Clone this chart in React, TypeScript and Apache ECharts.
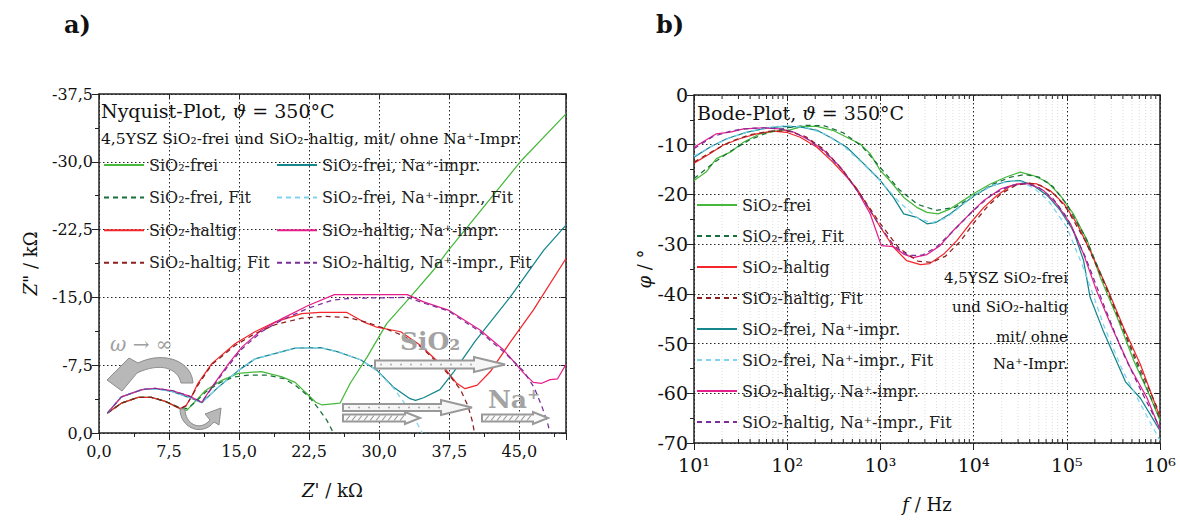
import React, { useEffect, useRef } from "react";
import * as echarts from "echarts";

const FONT = "DejaVu Serif";

const SERIES_NAMES = [
  "SiO₂-frei",
  "SiO₂-frei, Fit",
  "SiO₂-haltig",
  "SiO₂-haltig, Fit",
  "SiO₂-frei, Na⁺-impr.",
  "SiO₂-frei, Na⁺-impr., Fit",
  "SiO₂-haltig, Na⁺-impr.",
  "SiO₂-haltig, Na⁺-impr., Fit",
];
const SERIES_COLORS = ["#46b83a", "#17703a", "#f2262b", "#8c1f1f", "#14868c", "#7fd3ee", "#e61e8c", "#7a2f98"];
const SERIES_DASHED = [false, true, false, true, false, true, false, true];

// Nyquist axes (Z' and -Z'' in kOhm)
const NYQ_X_MAX = 50;
const NYQ_Y_MAX = 37.5;
const NYQ_STEP = 7.5;

// Bode axes
const BODE_F_MIN = 10;
const BODE_F_MAX = 1e6;
const BODE_PHI_MIN = -70;
const BODE_PHI_STEP = 10;
const SUPERSCRIPTS = ["⁰", "¹", "²", "³", "⁴", "⁵", "⁶"];

// ---------- Nyquist data: [Z' kOhm, -Z'' kOhm] ----------
const nyqFrei = [
  [0.9, 2.2], [2.4, 3.3], [4.2, 3.95], [5.6, 3.95], [7.1, 3.5], [8.7, 2.7], [9.4, 2.5], [10.3, 3.5],
  [11.4, 4.7], [13.1, 5.8], [14.9, 6.6], [17.4, 6.8], [19.6, 6.2], [21, 5.6], [22.4, 4.2], [23.2, 3.4],
  [23.9, 3.1], [25.8, 3.3], [26.9, 5.5], [28.7, 8.4], [30.8, 12.1], [33.3, 15.0], [35.8, 18.0],
  [37.4, 20.2], [40, 23.5], [45.1, 30.0], [50, 35.3],
];
const nyqFreiFit = [
  [0.9, 2.2], [2.4, 3.3], [4.2, 3.95], [5.6, 3.95], [7.1, 3.5], [8.7, 2.8], [9.5, 2.7], [10.5, 3.6],
  [11.5, 4.6], [13, 5.6], [14.5, 6.2], [16, 6.4], [18, 6.4], [19.8, 6.0], [21, 5.3], [22.5, 4.0],
  [23.5, 2.7], [24.4, 1.4], [25.1, 0],
];
const nyqHaltig = [
  [0.9, 2.2], [2.4, 3.3], [4.2, 3.95], [5.6, 3.95], [7.1, 3.5], [8.7, 2.7], [9.3, 3.0], [9.9, 4.0],
  [10.6, 5.5], [12.1, 7.7], [14.6, 9.9], [16.7, 11.2], [18.9, 12.3], [21.7, 13.2], [23.7, 13.35],
  [26.5, 13.35], [28.3, 12.3], [29.75, 11.7], [32.3, 11.2], [34.4, 9.7], [36.9, 7.3], [38.3, 5.5],
  [39.2, 4.9], [40.5, 5.3], [41.9, 6.8], [44.0, 10.0], [46.5, 13.6], [50, 19.3],
];
const nyqHaltigFit = [
  [0.9, 2.2], [2.4, 3.3], [4.2, 3.95], [5.6, 3.95], [7.1, 3.5], [8.7, 2.7], [9.3, 3.0], [9.9, 4.0],
  [10.6, 5.3], [12.1, 7.6], [14.6, 9.7], [16.7, 11.0], [18.9, 12.0], [21.7, 12.7], [24, 12.9],
  [26.5, 12.8], [28.5, 12.3], [30.5, 11.6], [32.5, 10.8], [34.5, 9.5], [36, 8.0], [37.5, 6.4],
  [38.7, 4.8], [39.5, 3.0], [40.0, 1.2], [40.2, 0],
];
const nyqFreiNa = [
  [0.9, 2.2], [2.4, 4.0], [4.6, 4.8], [6.0, 4.9], [7.8, 4.6], [9.6, 3.95], [11, 3.35], [12.8, 5.1],
  [14.9, 6.9], [16.7, 8.2], [18.9, 8.8], [21, 9.4], [23.7, 9.45], [25.5, 9.0], [28, 8.1],
  [29.75, 6.95], [31.5, 5.1], [33.3, 3.8], [33.9, 3.6], [34.75, 3.9], [36.5, 4.8], [38, 6.8],
  [40.3, 10.2], [44, 15.0], [47.6, 20.2], [50, 23.0],
];
const nyqFreiNaFit = [
  [0.9, 2.2], [2.4, 4.0], [4.6, 4.8], [6.0, 4.9], [7.8, 4.6], [9.6, 3.95], [11, 3.35], [12.8, 5.1],
  [14.9, 6.9], [16.7, 8.2], [18.9, 8.8], [21, 9.4], [23.7, 9.45], [25.5, 9.0], [28, 8.1],
  [29.75, 6.9], [31.5, 5.0], [32.5, 3.6], [33.3, 2.4], [34, 1.2], [34.6, 0],
];
const nyqHaltigNa = [
  [0.9, 2.2], [2.4, 4.0], [4.6, 4.8], [6.0, 4.95], [7.8, 4.7], [9.6, 4.1], [11, 3.4], [12.1, 5.1],
  [13.9, 7.7], [15.3, 9.5], [17.4, 11.4], [19.6, 12.65], [22.4, 14.1], [25.2, 15.3], [33, 15.3],
  [34.75, 14.5], [37.4, 13.6], [40.8, 11.4], [43.3, 9.2], [45.5, 6.6], [46.5, 5.6], [47.4, 5.5],
  [48.3, 5.9], [49.1, 6.0], [50, 7.6],
];
const nyqHaltigNaFit = [
  [0.9, 2.2], [2.4, 4.0], [4.6, 4.8], [6.0, 4.95], [7.8, 4.7], [9.6, 4.1], [11, 3.4], [12.1, 5.0],
  [13.9, 7.5], [15.3, 9.3], [17.4, 11.2], [19.6, 12.5], [22.4, 13.8], [25, 14.7], [27, 14.9],
  [33, 15.0], [35, 14.3], [37.4, 13.5], [40.8, 11.2], [43.3, 9.0], [45.5, 6.8], [46.6, 5.0],
  [47.4, 3.0], [48.0, 1.2], [48.3, 0],
];

// ---------- Bode data: [log10(f / Hz), phase in degrees] ----------
const bodeFrei = [
  [1.0, -17.2], [1.13, -15.5], [1.24, -12.8], [1.39, -11.5], [1.53, -9.5], [1.71, -7.8], [1.89, -7.25],
  [2.03, -7.0], [2.17, -6.3], [2.32, -6.3], [2.49, -7.1], [2.67, -8.8], [2.78, -9.8], [2.89, -11.8],
  [3.0, -15.2], [3.1, -17.2], [3.25, -20.6], [3.39, -22.6], [3.5, -23.6], [3.62, -23.9], [3.75, -22.9],
  [3.89, -21.2], [4.03, -19.5], [4.18, -17.9], [4.35, -16.5], [4.5, -15.5], [4.64, -16.2], [4.79, -17.5],
  [4.93, -20.2], [5.07, -23.9], [5.22, -29.3], [5.36, -36.7], [5.54, -44.7], [5.72, -53.5], [5.9, -60.9],
  [6.0, -65.5],
];
const bodeFreiFit = [
  [1.0, -16.8], [1.2, -13.8], [1.4, -11.2], [1.6, -9.0], [1.8, -7.5], [2.0, -6.6], [2.2, -6.1], [2.4, -6.2],
  [2.6, -7.6], [2.8, -10.3], [3.0, -14.6], [3.2, -19.0], [3.4, -22.0], [3.6, -23.2], [3.8, -22.6],
  [4.0, -20.4], [4.2, -18.0], [4.4, -16.5], [4.55, -16.0], [4.7, -16.5], [4.85, -18.4], [5.0, -22.0],
  [5.2, -28.6], [5.4, -37.6], [5.6, -47.0], [5.8, -56.4], [6.0, -65.2],
];
const bodeHaltig = [
  [1.0, -13.7], [1.17, -11.8], [1.31, -10.1], [1.49, -8.8], [1.67, -7.8], [1.85, -7.25], [1.99, -7.5],
  [2.14, -8.5], [2.32, -10.5], [2.49, -13.5], [2.64, -16.5], [2.75, -18.9], [2.89, -23.2], [3.0, -26.6],
  [3.14, -30.6], [3.28, -33.3], [3.43, -34.1], [3.53, -33.9], [3.68, -32.0], [3.82, -29.3], [3.96, -25.9],
  [4.11, -22.6], [4.25, -20.2], [4.39, -18.4], [4.53, -17.7], [4.68, -17.9], [4.82, -19.2], [4.97, -21.9],
  [5.11, -25.9], [5.25, -31.3], [5.43, -38.7], [5.61, -46.8], [5.79, -54.2], [6.0, -64.8],
];
const bodeHaltigFit = [
  [1.0, -13.5], [1.2, -11.3], [1.4, -9.3], [1.6, -8.0], [1.8, -7.3], [2.0, -7.2], [2.2, -8.4], [2.4, -11.0],
  [2.6, -15.2], [2.8, -20.4], [3.0, -25.9], [3.2, -30.8], [3.4, -33.4], [3.55, -33.7], [3.7, -32.4],
  [3.85, -29.6], [4.0, -25.8], [4.15, -22.4], [4.3, -19.8], [4.45, -18.2], [4.58, -17.7], [4.72, -18.2],
  [4.87, -20.0], [5.0, -22.9], [5.2, -29.4], [5.4, -37.8], [5.6, -46.8], [5.8, -55.6], [6.0, -64.2],
];
const bodeFreiNa = [
  [1.0, -12.5], [1.17, -10.5], [1.35, -8.8], [1.56, -7.5], [1.78, -6.65], [1.96, -6.3], [2.14, -6.4],
  [2.32, -7.1], [2.49, -8.8], [2.64, -10.5], [2.82, -13.8], [3.0, -17.2], [3.14, -20.6], [3.25, -23.9],
  [3.39, -24.6], [3.5, -25.9], [3.6, -25.6], [3.75, -23.9], [3.89, -21.9], [4.03, -19.9], [4.18, -18.4],
  [4.35, -17.4], [4.5, -17.2], [4.64, -18.2], [4.79, -20.2], [4.93, -23.2], [5.07, -27.3], [5.18, -33.3],
  [5.25, -40.7], [5.39, -47.4], [5.63, -57.7], [5.79, -61.0], [6.0, -67.5],
];
const bodeFreiNaFit = [
  [1.0, -12.3], [1.2, -10.2], [1.4, -8.5], [1.6, -7.3], [1.8, -6.5], [2.0, -6.2], [2.2, -6.5], [2.4, -7.8],
  [2.6, -10.2], [2.8, -13.6], [3.0, -17.3], [3.2, -21.5], [3.4, -24.8], [3.55, -25.7], [3.7, -24.8],
  [3.85, -22.6], [4.0, -20.2], [4.2, -18.2], [4.4, -17.3], [4.5, -17.4], [4.65, -18.8], [4.8, -21.2],
  [5.0, -26.6], [5.2, -35.8], [5.4, -46.5], [5.6, -55.5], [5.8, -62.5], [6.0, -69.5],
];
const bodeHaltigNa = [
  [1.0, -10.5], [1.24, -7.8], [1.39, -7.45], [1.53, -6.8], [1.74, -6.6], [1.92, -6.8], [2.07, -7.45],
  [2.24, -9.1], [2.39, -11.1], [2.57, -14.5], [2.75, -19.2], [2.89, -23.9], [3.01, -30.3], [3.14, -30.5],
  [3.25, -32.0], [3.35, -32.7], [3.5, -32.1], [3.64, -30.3], [3.78, -27.3], [3.96, -23.9], [4.11, -21.2],
  [4.29, -18.9], [4.46, -17.9], [4.61, -17.9], [4.75, -19.2], [4.89, -21.9], [5.04, -25.9], [5.18, -32.0],
  [5.32, -39.4], [5.5, -47.4], [5.68, -54.8], [5.86, -60.9], [6.0, -67.3],
];
const bodeHaltigNaFit = [
  [1.0, -10.8], [1.2, -8.4], [1.4, -7.2], [1.6, -6.7], [1.8, -6.6], [2.0, -7.0], [2.2, -8.6], [2.4, -11.4],
  [2.6, -15.2], [2.8, -20.6], [3.0, -26.5], [3.15, -30.4], [3.3, -32.3], [3.45, -32.2], [3.6, -30.6],
  [3.8, -27.0], [4.0, -23.2], [4.2, -20.0], [4.4, -18.2], [4.55, -17.8], [4.7, -18.6], [4.85, -20.8],
  [5.0, -24.6], [5.2, -32.6], [5.4, -42.4], [5.6, -51.8], [5.8, -59.6], [6.0, -67.0],
];

const NYQ_DATA = [nyqFrei, nyqFreiFit, nyqHaltig, nyqHaltigFit, nyqFreiNa, nyqFreiNaFit, nyqHaltigNa, nyqHaltigNaFit];
const BODE_DATA = [bodeFrei, bodeFreiFit, bodeHaltig, bodeHaltigFit, bodeFreiNa, bodeFreiNaFit, bodeHaltigNa, bodeHaltigNaFit];

// minor decade lines of the log axis (2..9 x 10^n)
const MINOR_MULT = [2, 3, 4, 5, 6, 7, 8, 9];
const DECADES = [10, 100, 1000, 10000, 100000];

// ---------- decorative shapes ----------
const BIG_ARROW = "M193 383 C192 362 165 350 138 363 L129 358 L107 380 L122 391 L137 373 C160 362 178 368 181 383 Z";
const SMALL_ARROW = "M185 409 C185 424 200 432 210 420 L205 414 L221 408 L219 425 L214 422 C202 437 180 428 180 409 Z";
let shapesRegistered = false;
function registerShapes() {
  if (shapesRegistered) return;
  echarts.graphic.registerShape("bigArrow", echarts.graphic.extendPath(BIG_ARROW, {}));
  echarts.graphic.registerShape("smallArrow", echarts.graphic.extendPath(SMALL_ARROW, {}));
  shapesRegistered = true;
}

function arrowPoints(x0: number, tip: number, yc: number, shaftH: number, headH: number, headL: number) {
  const hx = tip - headL;
  return [
    [x0, yc - shaftH / 2], [hx, yc - shaftH / 2], [hx, yc - headH / 2], [tip, yc],
    [hx, yc + headH / 2], [hx, yc + shaftH / 2], [x0, yc + shaftH / 2],
  ];
}
function hatch(x0: number, x1: number, yc: number, h: number) {
  const out: any[] = [];
  for (let x = x0 + 3; x + 4 < x1; x += 6) {
    out.push({
      type: "line",
      shape: { x1: x, y1: yc + h / 2 - 1, x2: x + 4, y2: yc - h / 2 + 1 },
      style: { stroke: "#9a9a9a", lineWidth: 1.2 },
      z: 11,
    });
  }
  return out;
}
function dots(x0: number, x1: number, yc: number) {
  const out: any[] = [];
  for (let x = x0 + 6; x < x1; x += 10) {
    out.push({ type: "circle", shape: { cx: x, cy: yc, r: 0.8 }, style: { fill: "#999" }, z: 11 });
  }
  return out;
}

const commaFmt = (v: number) => v.toFixed(1).replace(".", ",");

export default function App() {
  const ref = useRef<HTMLDivElement>(null);
  useEffect(() => {
    registerShapes();
    const chart = echarts.init(ref.current!, null, { renderer: "svg" });

    const gridLine = { show: true, lineStyle: { color: "#222", width: 1, type: [1.5, 2.5] as any } };
    const axisLine = { show: true, onZero: false, lineStyle: { color: "#222", width: 1.5 } };
    const labelStyle = { color: "#111", fontFamily: FONT, fontSize: 16 };
    const nameStyle = {
      fontFamily: FONT, fontSize: 18, color: "#111",
      rich: { i: { fontFamily: FONT, fontSize: 18, fontStyle: "italic", color: "#111" } },
    };

    const series: any[] = [];
    SERIES_NAMES.forEach((name, i) => {
      const lineStyle = {
        color: SERIES_COLORS[i],
        width: 1.25,
        type: SERIES_DASHED[i] ? ([5, 4] as any) : "solid",
      };
      series.push({
        name, type: "line", xAxisIndex: 0, yAxisIndex: 0, data: NYQ_DATA[i],
        showSymbol: false, symbol: "none", lineStyle, itemStyle: { color: SERIES_COLORS[i] },
        z: SERIES_DASHED[i] ? 4 : 3,
      });
      series.push({
        name, type: "line", xAxisIndex: 2, yAxisIndex: 2,
        data: BODE_DATA[i].map(([lf, p]) => [Math.pow(10, lf), p]),
        showSymbol: false, symbol: "none", lineStyle, itemStyle: { color: SERIES_COLORS[i] },
        z: SERIES_DASHED[i] ? 4 : 3,
      });
    });
    const minorFreqs: number[] = [];
    DECADES.forEach((d) => MINOR_MULT.forEach((m) => minorFreqs.push(d * m)));
    series.push({
      type: "custom", xAxisIndex: 2, yAxisIndex: 2, silent: true, z: 1,
      data: minorFreqs,
      renderItem: (_p: any, api: any) => {
        const f = api.value(0);
        const top = api.coord([f, 0]);
        const bot = api.coord([f, BODE_PHI_MIN]);
        return {
          type: "group",
          children: [
            { type: "line", shape: { x1: top[0], y1: top[1], x2: bot[0], y2: bot[1] }, style: { stroke: "#d6d6d6", lineWidth: 0.8, lineDash: [1, 2] } },
            { type: "line", shape: { x1: bot[0], y1: bot[1], x2: bot[0], y2: bot[1] - 4 }, style: { stroke: "#222", lineWidth: 1 } },
            { type: "line", shape: { x1: top[0], y1: top[1], x2: top[0], y2: top[1] + 4 }, style: { stroke: "#222", lineWidth: 1 } },
          ],
        };
      },
    });

    const legendCommon = {
      orient: "vertical" as const, itemWidth: 40, itemHeight: 14, padding: 0, selectedMode: false,
      itemStyle: { opacity: 0 },
      textStyle: { fontFamily: FONT, fontSize: 16, color: "#222" },
    };

    const italicRich = (size: number, fill: string) => ({ i: { fontFamily: FONT, fontSize: size, fontStyle: "italic", fill } });

    const graphic: any[] = [
      { type: "text", left: 64, top: 12, style: { text: "a)", fontFamily: FONT, fontSize: 24, fontWeight: "bold", fill: "#111" } },
      { type: "text", left: 656, top: 12, style: { text: "b)", fontFamily: FONT, fontSize: 24, fontWeight: "bold", fill: "#111" } },
      {
        type: "text", x: 101, y: 111, z: 20,
        style: { text: "Nyquist-Plot, {i|ϑ} = 350°C", fontFamily: FONT, fontSize: 19, fill: "#111", verticalAlign: "middle", rich: italicRich(19, "#111") },
      },
      {
        type: "text", x: 101, y: 139, z: 20,
        style: { text: "4,5YSZ SiO₂-frei und SiO₂-haltig, mit/ ohne Na⁺-Impr.", fontFamily: FONT, fontSize: 15.5, fill: "#111", verticalAlign: "middle" },
      },
      {
        type: "text", x: 697, y: 113, z: 20,
        style: { text: "Bode-Plot, {i|ϑ} = 350°C", fontFamily: FONT, fontSize: 19, fill: "#111", verticalAlign: "middle", rich: italicRich(19, "#111") },
      },
      ...["4,5YSZ SiO₂-frei", "und SiO₂-haltig", "mit/ ohne", "Na⁺-Impr."].map((t, k) => ({
        type: "text", x: 1068, y: [278, 307, 337, 364][k], z: 20,
        style: { text: t, fontFamily: FONT, fontSize: 15, fill: "#111", align: "right", verticalAlign: "middle" },
      })),
      {
        type: "text", x: 110, y: 344, z: 20,
        style: { text: "{i|ω} → ∞", fontFamily: FONT, fontSize: 20, fill: "#a0a0a0", verticalAlign: "middle", rich: italicRich(20, "#a0a0a0") },
      },
      { type: "bigArrow", x: 0, y: 0, z: 20, style: { fill: "#b8b8b8", stroke: "#8c8c8c", lineWidth: 1 } },
      { type: "smallArrow", x: 0, y: 0, z: 20, style: { fill: "#b8b8b8", stroke: "#8c8c8c", lineWidth: 1 } },
      {
        type: "text", x: 400, y: 341, z: 20,
        style: { text: "SiO₂", fontFamily: FONT, fontSize: 25, fontWeight: "bold", fill: "#a3a3a3", verticalAlign: "middle" },
      },
      {
        type: "text", x: 488, y: 399, z: 20,
        style: { text: "Na⁺", fontFamily: FONT, fontSize: 25, fontWeight: "bold", fill: "#a3a3a3", verticalAlign: "middle" },
      },
      { type: "polygon", z: 10, shape: { points: arrowPoints(375, 505, 364.5, 8, 15, 31) }, style: { fill: "#f6f6f6", stroke: "#999", lineWidth: 2 } },
      ...dots(375, 473, 364.5),
      { type: "polygon", z: 10, shape: { points: arrowPoints(343, 472, 407.5, 7, 15, 31) }, style: { fill: "#f6f6f6", stroke: "#999", lineWidth: 2 } },
      ...dots(343, 440, 407.5),
      { type: "polygon", z: 10, shape: { points: arrowPoints(343, 420, 418, 7, 12, 15) }, style: { fill: "#fafafa", stroke: "#999", lineWidth: 2 } },
      ...hatch(343, 405, 418, 7),
      { type: "polygon", z: 10, shape: { points: arrowPoints(482, 548, 418, 7, 12, 15) }, style: { fill: "#fafafa", stroke: "#999", lineWidth: 2 } },
      ...hatch(482, 533, 418, 7),
    ];

    const option: any = {
      animation: false,
      backgroundColor: "#fff",
      textStyle: { fontFamily: FONT },
      grid: [
        { left: 99, top: 94, width: 467, height: 339 },
        { left: 694, top: 95, width: 466, height: 348 },
      ],
      xAxis: [
        {
          type: "value", gridIndex: 0, min: 0, max: NYQ_X_MAX, interval: NYQ_STEP,
          axisLine, axisTick: { show: true, length: 7, lineStyle: { color: "#222" } },
          minorTick: { show: true, splitNumber: 2, length: 4, lineStyle: { color: "#222" } },
          axisLabel: { ...labelStyle, margin: 10, showMaxLabel: false, formatter: (v: number) => commaFmt(v) },
          splitLine: gridLine,
          name: "{i|Z}' / kΩ", nameLocation: "middle", nameGap: 48, nameTextStyle: nameStyle,
        },
        {
          type: "value", gridIndex: 0, position: "top", min: 0, max: NYQ_X_MAX, interval: NYQ_STEP,
          axisLine, axisTick: { show: true, inside: true, length: 5, lineStyle: { color: "#222" } },
          axisLabel: { show: false }, splitLine: { show: false },
        },
        {
          type: "log", logBase: 10, gridIndex: 1, min: BODE_F_MIN, max: BODE_F_MAX,
          axisLine, axisTick: { show: true, length: 7, lineStyle: { color: "#222" } },
          axisLabel: {
            ...labelStyle, fontSize: 19, margin: 12,
            formatter: (v: number) => "10" + SUPERSCRIPTS[Math.round(Math.log10(v))],
          },
          splitLine: gridLine,
          name: "{i|f} / Hz", nameLocation: "middle", nameGap: 52, nameTextStyle: nameStyle,
        },
        {
          type: "log", logBase: 10, gridIndex: 1, position: "top", min: BODE_F_MIN, max: BODE_F_MAX,
          axisLine, axisTick: { show: true, inside: true, length: 6, lineStyle: { color: "#222" } },
          axisLabel: { show: false }, splitLine: { show: false },
        },
      ],
      yAxis: [
        {
          type: "value", gridIndex: 0, min: 0, max: NYQ_Y_MAX, interval: NYQ_STEP,
          axisLine, axisTick: { show: true, length: 7, lineStyle: { color: "#222" } },
          minorTick: { show: true, splitNumber: 2, length: 4, lineStyle: { color: "#222" } },
          axisLabel: { ...labelStyle, margin: 6, formatter: (v: number) => (v === 0 ? "0,0" : "-" + commaFmt(v)) },
          splitLine: gridLine,
          name: "{i|Z}\" / kΩ", nameLocation: "middle", nameGap: 60, nameTextStyle: nameStyle,
        },
        {
          type: "value", gridIndex: 0, position: "right", min: 0, max: NYQ_Y_MAX, interval: NYQ_STEP,
          axisLine, axisTick: { show: true, inside: true, length: 5, lineStyle: { color: "#222" } },
          axisLabel: { show: false }, splitLine: { show: false },
        },
        {
          type: "value", gridIndex: 1, min: BODE_PHI_MIN, max: 0, interval: BODE_PHI_STEP,
          axisLine, axisTick: { show: true, length: 7, lineStyle: { color: "#222" } },
          minorTick: { show: true, splitNumber: 2, length: 4, lineStyle: { color: "#222" } },
          axisLabel: { ...labelStyle, fontSize: 19, margin: 6, formatter: (v: number) => String(v) },
          splitLine: gridLine,
          name: "{i|φ} / °", nameLocation: "middle", nameGap: 40, nameTextStyle: nameStyle,
        },
        {
          type: "value", gridIndex: 1, position: "right", min: BODE_PHI_MIN, max: 0, interval: BODE_PHI_STEP,
          axisLine, axisTick: { show: true, inside: true, length: 5, lineStyle: { color: "#222" } },
          axisLabel: { show: false }, splitLine: { show: false },
        },
      ],
      legend: [
        { ...legendCommon, data: SERIES_NAMES.slice(0, 4), left: 103, top: 157, itemGap: 16.6 },
        { ...legendCommon, data: SERIES_NAMES.slice(4, 8), left: 276, top: 157, itemGap: 16.6 },
        { ...legendCommon, data: SERIES_NAMES, left: 696, top: 197, itemGap: 15 },
      ],
      series,
      graphic,
    };
    chart.setOption(option);
    return () => chart.dispose();
  }, []);
  return (
    <div
      ref={ref}
      style={{ position: "fixed", left: 0, top: 0, width: 1180, height: 521, background: "#fff" }}
    />
  );
}
